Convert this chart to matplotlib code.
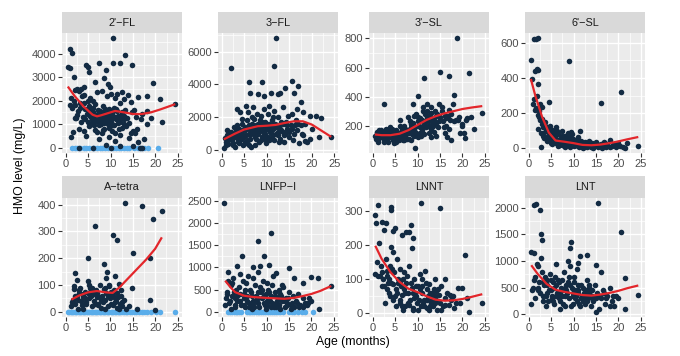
import numpy as np
import matplotlib
matplotlib.use("Agg")
import matplotlib.pyplot as plt
from matplotlib.ticker import MultipleLocator

plt.rcParams['font.family'] = ['Liberation Sans', 'DejaVu Sans']

# ---- data (age in months, HMO level in mg/L) ----
titles = ["2'\u2212FL", "3\u2212FL", "3'\u2212SL", "6'\u2212SL",
          "A\u2212tetra", "LNFP\u2212I", "LNNT", "LNT"]

fl2_age = [0.5, 0.9, 1.0, 1.5, 1.8, 2.5, 3.5, 4.0, 4.5, 5.0,
           5.2, 6.5, 7.5, 8.5, 9.0, 9.5, 9.8, 10.5, 10.6, 12.0,
           13.2, 14.8, 12.5, 16.0, 18.0, 19.5, 21.0, 24.4, 21.5, 19.0,
           17.0, 18.0, 15.0, 15.5, 2.0, 3.0, 4.2, 5.5, 6.0, 7.0,
           8.0, 9.2, 10.2, 11.0, 11.5, 12.2, 13.0, 13.8, 14.5, 15.2,
           1.2, 1.5, 2.2, 2.8, 3.3, 3.8, 4.3, 4.8, 5.3, 5.8,
           6.2, 6.6, 7.0, 7.3, 7.7, 8.1, 8.4, 8.8, 9.1, 9.4,
           9.7, 10.0, 10.3, 10.7, 11.1, 11.4, 11.8, 12.3, 12.7, 13.3,
           6.0, 6.8, 7.5, 8.0, 8.6, 9.0, 9.5, 10.1, 10.8, 11.6,
           5.5, 6.3, 7.2, 7.8, 8.3, 8.9, 9.3, 9.9, 10.4, 11.3,
           1.3, 1.7, 3.0, 4.0, 4.6, 5.2, 6.5, 7.4, 8.2, 9.6,
           10.3, 11.0, 12.0, 12.6, 13.5, 14.0, 14.5, 16.2, 17.5, 12.9,
           2.4, 3.5, 5.8, 7.0, 8.6, 10.5, 11.7, 13.0, 14.2, 15.8,
           3.0, 6.0, 10.0, 15.0, 16.5, 17.0, 9.0, 12.0,
           5.1, 5.6, 6.1, 6.7, 7.1, 7.6, 8.2, 8.7, 9.2, 9.7,
           10.2, 10.6, 11.2, 11.7, 12.1, 12.6, 13.1, 6.4, 7.9, 9.9,
           1.0, 1.9, 2.6, 3.1, 3.6, 4.1, 4.4, 5.0, 4.9, 2.1,
           6.9, 8.4, 9.6, 10.9, 11.9, 13.6, 14.8, 15.6, 16.7, 18.2]
fl2_val = [3450, 3400, 4200, 4050, 3000, 2500, 2500, 2600, 3500, 3450,
           3200, 2800, 3600, 2950, 3300, 2700, 2600, 3600, 4650, 3600,
           3950, 3500, 2350, 2150, 2200, 2750, 2050, 1850, 1100, 1250,
           1450, 1000, 700, 600, 2450, 2400, 2250, 2100, 2000, 2350,
           2400, 2200, 2300, 2100, 2300, 1900, 2050, 2250, 1950, 1600,
           2100, 1700, 1800, 1550, 1900, 1300, 1650, 1450, 1750, 1200,
           1500, 1850, 1300, 1600, 1100, 1450, 1750, 1250, 1550, 1350,
           1650, 1200, 1450, 1700, 1300, 1550, 1150, 1400, 1250, 1600,
           1050, 1250, 950, 1150, 1050, 1200, 1000, 1100, 950, 1050,
           1350, 1150, 1450, 1300, 1500, 1400, 1250, 1500, 1350, 1200,
           450, 650, 800, 700, 500, 900, 750, 350, 600, 450,
           700, 300, 550, 850, 900, 400, 600, 250, 350, 1000,
           1250, 1100, 1000, 1150, 800, 950, 1300, 1200, 1050, 800,
           0, 0, 0, 50, 0, 0, 100, 80,
           1600, 1300, 1700, 1400, 1200, 1550, 1300, 1650, 1150, 1450,
           1250, 1550, 1650, 1350, 1100, 1500, 1350, 950, 1000, 900,
           1800, 2000, 1400, 1700, 2200, 1900, 1200, 1100, 2000, 1250,
           650, 750, 850, 600, 800, 1250, 1500, 1300, 1200, 1550]
fl2_zero = [1.5, 2.0, 2.6, 3.2, 4.0, 4.6, 5.2, 6.0, 6.4, 7.0, 7.6, 8.2, 8.8,
            9.4, 10.0, 10.6, 11.2, 11.8, 12.4, 13.0, 13.6, 14.2, 15.2, 16.0,
            16.8, 17.4, 18.4, 20.6]
fl2_fit_x = [0.5, 2, 4, 6, 7, 8, 10, 11, 13, 15, 17, 19, 21, 24.4]
fl2_fit_y = [2600, 2200, 1750, 1400, 1330, 1380, 1500, 1560, 1500, 1430, 1430,
             1500, 1620, 1850]

fl3_age = [2.0, 6.0, 9.0, 11.7, 12.0, 15.5, 17.0, 16.0, 14.0, 13.0,
           5.5, 6.2, 8.0, 9.5, 10.5, 11.0, 12.5, 3.5, 4.0, 7.0,
           17.5, 18.0, 19.5, 21.0, 22.0, 24.3, 18.5, 20.0, 21.5, 19.0,
           0.5, 0.8, 1.0, 1.3, 1.5, 1.8, 2.1, 2.4, 2.7, 3.0,
           3.3, 3.6, 3.9, 4.2, 4.5, 4.8, 5.1, 5.4, 5.7, 6.0,
           6.3, 6.6, 6.9, 7.2, 7.5, 7.8, 8.1, 8.4, 8.7, 9.0,
           9.3, 9.6, 9.9, 10.2, 10.5, 10.8, 11.1, 11.4, 11.7, 12.0,
           12.3, 12.6, 12.9, 13.2, 13.5, 13.8, 14.1, 14.4, 14.7, 15.0,
           15.3, 15.6, 16.0, 16.4, 16.8, 17.2, 17.6, 18.0, 18.5, 19.5,
           1.2, 2.2, 3.2, 4.4, 5.2, 6.4, 7.4, 8.2, 9.2, 10.0,
           10.6, 11.2, 11.9, 12.8, 13.6, 14.3, 5.8, 7.7, 8.9, 10.9,
           2.5, 3.4, 4.6, 5.9, 6.8, 7.9, 9.4, 10.4, 11.5, 13.1,
           0.9, 1.6, 2.9, 4.1, 5.0, 6.1, 7.0, 8.6, 9.8, 11.3,
           12.4, 13.9, 14.8, 15.8, 16.6, 17.8, 3.8, 6.7, 8.3, 9.6,
           2.0, 3.0, 3.6, 4.3, 4.9, 5.5, 6.0, 6.6, 7.1, 7.6,
           8.0, 8.5, 9.0, 9.5, 10.0, 10.5, 11.0, 11.5, 12.0, 12.5,
           13.0, 13.5, 14.0, 14.5, 15.0, 15.5, 16.2, 17.0, 5.3, 7.3,
           8.8, 10.3, 11.6, 12.7, 3.9, 4.7, 6.5, 9.7, 1.4, 2.6]
fl3_val = [5000, 4150, 4150, 5100, 6800, 4200, 3900, 3500, 3800, 3450,
           2700, 3500, 3400, 3300, 2700, 3450, 3400, 2500, 2300, 2600,
           2900, 2300, 2100, 2050, 1950, 800, 550, 1300, 800, 500,
           150, 750, 500, 1200, 350, 900, 1100, 600, 1400, 800,
           1000, 500, 1300, 700, 1600, 900, 1200, 400, 1800, 1000,
           700, 1500, 1100, 1900, 800, 1300, 1600, 500, 2100, 1200,
           900, 1700, 1400, 2200, 600, 1100, 1800, 1300, 2400, 1000,
           1500, 2000, 700, 1200, 2600, 900, 1600, 1300, 2100, 800,
           1500, 2200, 1000, 1800, 1200, 400, 1500, 900, 1600, 700,
           900, 700, 1200, 1000, 1400, 1200, 1000, 1100, 1500, 1300,
           1400, 1000, 1600, 1400, 1100, 1700, 600, 700, 800, 700,
           400, 1500, 1900, 2300, 2000, 2200, 2500, 1600, 2000, 1700,
           300, 1100, 200, 600, 800, 300, 1300, 1800, 400, 1500,
           900, 500, 1200, 600, 2500, 1000, 900, 1600, 1300, 1000,
           900, 1000, 700, 1100, 1300, 900, 1500, 1000, 1200, 1500,
           1000, 1300, 1700, 1100, 1600, 1200, 1300, 900, 1400, 1100,
           1300, 1600, 1000, 1500, 1100, 1300, 1500, 1600, 500, 300,
           600, 800, 600, 500, 400, 300, 200, 700, 600, 300]
fl3_zero = []
fl3_fit_x = [0.5, 3, 5, 8, 10, 12, 14, 16, 18, 20, 22, 24.3]
fl3_fit_y = [650, 1000, 1250, 1450, 1480, 1530, 1650, 1750, 1750, 1550, 1200, 800]

sl3_age = [18.7, 15.0, 21.5, 17.0, 11.5, 18.2, 10.0, 2.5, 9.0, 24.4,
           21.0, 20.0, 19.5, 20.5, 16.0, 17.0, 9.5, 13.0, 14.0, 22.5,
           0.5, 0.8, 1.0, 1.3, 1.6, 1.9, 2.2, 2.5, 2.8, 3.1,
           3.4, 3.7, 4.0, 4.3, 4.6, 4.9, 5.2, 5.5, 5.8, 6.1,
           6.4, 6.7, 7.0, 7.3, 7.6, 7.9, 8.2, 8.5, 8.8, 9.1,
           9.4, 9.7, 10.0, 10.3, 10.6, 10.9, 11.2, 11.5, 11.8, 12.1,
           12.4, 12.7, 13.0, 13.3, 13.6, 13.9, 14.2, 14.5, 14.8, 15.1,
           15.4, 15.7, 16.0, 16.3, 16.6, 16.9, 17.2, 17.5, 17.8, 18.1,
           1.2, 2.0, 3.0, 3.8, 4.8, 5.6, 6.6, 7.4, 8.4, 9.2,
           10.2, 10.8, 11.5, 12.0, 12.6, 13.4, 14.4, 15.5, 16.4, 17.4,
           1.5, 2.6, 3.5, 4.5, 5.5, 6.5, 7.5, 8.5, 9.5, 10.5,
           11.0, 11.7, 12.3, 12.9, 13.5, 14.1, 18.5, 19.0, 19.8, 20.3,
           0.9, 1.7, 2.4, 3.3, 4.1, 4.7, 5.3, 5.9, 6.3, 6.9,
           7.2, 7.7, 8.0, 8.6, 9.0, 9.6, 10.1, 10.5, 11.0, 11.4,
           11.9, 12.5, 13.1, 2.9, 3.9, 5.1, 6.2, 7.1, 8.3, 9.3,
           10.7, 11.3, 12.2, 13.7, 14.7, 15.8, 16.8, 19.3, 20.8, 22.0]
sl3_val = [800, 570, 565, 545, 525, 410, 405, 350, 350, 290,
           250, 210, 150, 115, 150, 180, 50, 120, 130, 180,
           130, 110, 150, 90, 140, 170, 120, 100, 160, 130,
           90, 150, 120, 180, 100, 140, 170, 110, 130, 240,
           150, 100, 200, 130, 170, 260, 110, 190, 140, 220,
           160, 280, 120, 200, 250, 170, 300, 140, 230, 350,
           270, 200, 330, 250, 160, 300, 220, 190, 350, 260,
           300, 230, 270, 200, 120, 310, 240, 280, 350, 230,
           100, 150, 110, 130, 80, 150, 120, 160, 180, 130,
           230, 190, 210, 260, 150, 220, 280, 330, 250, 100,
           170, 90, 170, 110, 120, 180, 140, 100, 190, 150,
           160, 280, 200, 290, 200, 270, 240, 240, 200, 150,
           160, 120, 140, 100, 160, 110, 140, 100, 160, 130,
           180, 110, 150, 210, 170, 150, 260, 190, 240, 200,
           190, 230, 180, 180, 190, 90, 200, 100, 230, 270,
           130, 330, 300, 240, 230, 190, 270, 260, 240, 260]
sl3_zero = []
sl3_fit_x = [0.5, 2, 4, 6, 8, 10, 12, 14, 16, 18, 20, 22, 24.4]
sl3_fit_y = [140, 135, 135, 145, 170, 205, 240, 265, 285, 300, 315, 325, 335]

sl6_age = [1.3, 1.6, 2.0, 0.5, 1.5, 1.8, 2.2, 0.8, 2.0, 4.5,
           9.0, 16.0, 20.5, 3.0, 1.5, 2.0, 2.8, 11.5, 1.2, 2.5,
           1.0, 1.7, 2.3, 2.6, 3.0, 3.3, 3.6, 3.9, 4.2, 4.5,
           4.8, 5.1, 5.4, 5.7, 6.0, 6.3, 6.6, 6.9, 7.2, 7.5,
           7.8, 8.1, 8.4, 8.7, 9.0, 9.3, 9.6, 9.9, 10.2, 10.5,
           10.8, 11.1, 11.4, 11.7, 12.0, 12.3, 12.6, 12.9, 13.2, 13.5,
           13.8, 14.1, 14.5, 15.0, 15.5, 16.0, 16.5, 17.0, 17.5, 18.0,
           18.5, 19.0, 19.5, 20.0, 21.0, 21.5, 24.4, 3.5, 4.0, 5.0,
           5.5, 6.2, 6.8, 7.3, 7.9, 8.5, 9.2, 9.8, 10.6, 11.3,
           2.2, 2.7, 3.1, 3.7, 4.3, 4.7, 5.3, 5.9, 6.5, 7.0,
           12.1, 12.8, 13.4, 14.3, 15.2, 16.3, 17.2, 19.3, 20.3, 22.0,
           8.8, 9.4, 10.0, 10.9, 8.2, 7.6, 6.0, 5.2, 1.9, 2.4,
           3.2, 3.8, 4.4, 4.9, 5.5, 6.1, 6.7, 7.4, 8.0, 8.6,
           9.1, 9.7, 10.4, 11.0, 11.6, 12.5, 13.0, 14.0, 14.8, 15.8,
           2.9, 4.1, 5.8, 6.4, 7.7, 8.3, 10.1, 11.8, 16.8, 18.2]
sl6_val = [620, 620, 625, 505, 440, 450, 445, 395, 365, 265,
           495, 260, 320, 235, 220, 190, 10, 100, 280, 250,
           250, 230, 180, 160, 140, 120, 150, 100, 110, 80,
           130, 60, 90, 70, 120, 50, 80, 40, 60, 100,
           30, 70, 45, 85, 25, 60, 80, 35, 40, 20,
           50, 15, 30, 45, 20, 10, 35, 25, 15, 40,
           10, 30, 20, 35, 10, 25, 15, 30, 20, 50,
           15, 25, 10, 30, 10, 5, 15, 60, 40, 30,
           50, 30, 20, 40, 15, 50, 10, 55, 25, 10,
           110, 90, 70, 130, 60, 90, 25, 100, 15, 20,
           5, 15, 20, 5, 25, 5, 10, 20, 15, 30,
           70, 95, 15, 65, 10, 55, 75, 105, 300, 210,
           90, 110, 70, 60, 40, 90, 45, 70, 50, 40,
           30, 45, 30, 20, 35, 30, 10, 20, 15, 20,
           170, 120, 60, 100, 30, 20, 50, 10, 35, 10]
sl6_zero = []
sl6_fit_x = [0.5, 1.5, 3, 4.5, 6, 8, 10, 12, 14, 16, 18, 20, 22, 24.4]
sl6_fit_y = [395, 300, 180, 90, 45, 38, 30, 20, 18, 22, 30, 40, 52, 65]

atet_age = [13.2, 17.0, 21.5, 19.5, 6.5, 10.7, 11.5, 15.0, 18.8, 5.0,
            2.0, 8.5, 9.2, 11.0, 14.8, 18.8, 20.0, 16.0, 12.0, 9.7,
            1.3, 1.6, 1.9, 2.2, 2.5, 2.8, 3.1, 3.4, 3.7, 4.0,
            4.3, 4.6, 4.9, 5.2, 5.5, 5.8, 6.1, 6.4, 6.7, 7.0,
            7.3, 7.6, 7.9, 8.2, 8.5, 8.8, 9.1, 9.4, 9.7, 10.0,
            10.3, 10.6, 10.9, 11.2, 11.5, 11.8, 12.1, 12.4, 12.7, 13.0,
            1.8, 3.0, 4.5, 5.3, 6.2, 7.2, 8.0, 9.0, 10.1, 11.0,
            13.5, 14.2, 12.3, 8.7, 6.8, 2.5, 3.8,
            1.5, 2.0, 2.7, 3.3, 3.9, 4.4, 5.0, 5.6, 6.0, 6.6,
            7.1, 7.7, 8.3, 8.9, 9.5, 10.2, 10.8, 11.4, 12.0, 12.6]
atet_val = [405, 395, 378, 345, 322, 285, 268, 218, 200, 202,
            143, 180, 150, 135, 88, 42, 5, 10, 105, 100,
            20, 45, 85, 30, 60, 10, 70, 40, 25, 55,
            75, 30, 115, 50, 90, 20, 65, 40, 80, 55,
            30, 100, 15, 60, 85, 45, 70, 20, 95, 50,
            65, 25, 80, 40, 15, 55, 30, 60, 20, 45,
            95, 80, 35, 100, 75, 25, 45, 125, 75, 35,
            10, 20, 80, 10, 70, 120, 10,
            35, 60, 45, 90, 65, 50, 70, 60, 90, 30,
            70, 55, 35, 90, 60, 30, 55, 70, 10, 35]
atet_zero = [0.5, 0.8, 1.1, 1.4, 1.7, 2.0, 2.3, 2.6, 2.9, 3.2, 3.5, 3.8,
             4.1, 4.4, 4.7, 5.0, 5.3, 5.6, 5.9, 6.2, 6.5, 6.8, 7.1, 7.4,
             7.7, 8.0, 8.3, 8.6, 8.9, 9.2, 9.5, 9.8, 10.1, 10.4, 10.7,
             11.0, 11.3, 11.6, 11.9, 12.2, 12.6, 13.0, 13.4, 13.8, 14.3,
             14.8, 15.3, 15.8, 16.3, 17.0, 17.6, 18.2, 19.0, 20.2, 21.0,
             24.5]
atet_fit_x = [1.3, 3, 5, 7, 9, 10.5, 12, 14, 16, 18, 20, 21.5]
atet_fit_y = [45, 60, 72, 77, 72, 70, 90, 125, 160, 195, 235, 278]

lnfp_age = [0.5, 11.0, 8.0, 9.5, 4.5, 10.5, 8.5, 3.5, 7.0, 15.0,
            1.5, 12.0, 20.0, 21.5, 24.4, 18.0, 19.5, 21.7, 16.0, 13.5,
            0.8, 1.1, 1.4, 1.7, 2.0, 2.3, 2.6, 2.9, 3.2, 3.5,
            3.8, 4.1, 4.4, 4.7, 5.0, 5.3, 5.6, 5.9, 6.2, 6.5,
            6.8, 7.1, 7.4, 7.7, 8.0, 8.3, 8.6, 8.9, 9.2, 9.5,
            9.8, 10.1, 10.4, 10.7, 11.0, 11.3, 11.6, 11.9, 12.2, 12.5,
            12.8, 13.1, 13.4, 13.7, 14.0, 14.3, 14.6, 15.0, 15.4, 15.8,
            16.2, 16.6, 17.0, 17.5, 18.0, 18.5, 19.0, 20.0, 1.2, 2.4,
            4.0, 5.5, 7.0, 8.2, 9.0, 10.0, 11.5, 12.8, 3.0, 6.0,
            2.0, 5.0, 6.8, 8.0, 9.8, 11.0, 13.0, 14.5, 15.5, 17.2,
            1.0, 1.9, 2.7, 3.4, 4.2, 4.9, 5.7, 6.3, 7.0, 7.6,
            8.2, 8.8, 9.4, 10.0, 10.6, 11.2, 11.8, 12.4, 13.2, 14.0,
            14.8, 15.7, 16.8, 18.2, 19.2, 3.0, 5.2, 7.3, 9.6, 12.0]
lnfp_val = [2450, 1780, 1600, 1270, 1250, 1060, 1030, 1030, 1000, 990,
            900, 880, 780, 770, 580, 650, 300, 50, 750, 600,
            150, 450, 700, 200, 600, 350, 750, 100, 500, 250,
            550, 400, 150, 700, 300, 500, 250, 800, 200, 450,
            350, 150, 600, 250, 450, 100, 550, 300, 700, 200,
            400, 150, 500, 250, 350, 600, 100, 450, 200, 300,
            150, 400, 250, 550, 100, 300, 200, 450, 150, 350,
            100, 250, 400, 150, 300, 200, 150, 250, 400, 650,
            850, 650, 750, 900, 500, 650, 800, 500, 300, 100,
            50, 150, 50, 200, 50, 100, 50, 150, 50, 100,
            300, 250, 450, 350, 250, 400, 350, 500, 250, 350,
            300, 450, 350, 250, 450, 200, 350, 250, 350, 250,
            300, 200, 200, 100, 200, 150, 100, 100, 150, 100]
lnfp_zero = [1.5, 1.9, 2.3, 2.7, 3.1, 3.5, 3.9, 4.3, 5.6, 6.0, 6.4, 6.8,
             7.2, 7.6, 8.0, 8.4, 8.8, 9.2, 9.6, 10.0, 10.4, 10.8, 11.2,
             11.6, 12.0, 12.5, 13.0, 13.6, 15.0, 15.6, 16.2, 17.0, 17.8,
             18.6, 20.3]
lnfp_fit_x = [0.8, 2, 3, 5, 7, 10, 12, 14, 16, 18, 20, 22, 24.4]
lnfp_fit_y = [700, 550, 440, 360, 330, 310, 300, 290, 310, 350, 400, 470, 580]

lnnt_age = [1.2, 4.0, 4.2, 10.7, 15.0, 0.5, 0.8, 2.0, 3.0, 2.5,
            4.5, 5.0, 6.5, 7.5, 8.0, 8.5, 9.0, 8.7, 4.0, 4.5,
            20.5, 21.5, 24.4, 21.0, 19.0, 20.0, 1.5, 1.0, 1.8, 2.2,
            2.6, 3.0, 3.3, 3.6, 3.9, 4.2, 4.5, 4.8, 5.1, 5.4,
            5.7, 6.0, 6.3, 6.6, 6.9, 7.2, 7.5, 7.8, 8.1, 8.4,
            8.7, 9.0, 9.3, 9.6, 9.9, 10.2, 10.5, 10.8, 11.1, 11.4,
            11.7, 12.0, 12.3, 12.6, 12.9, 13.2, 13.5, 13.8, 14.1, 14.4,
            14.7, 15.0, 15.3, 15.6, 16.0, 16.5, 17.0, 17.5, 18.0, 18.5,
            0.6, 1.3, 2.8, 3.5, 5.5, 6.2, 7.0, 7.7, 9.5, 10.5,
            11.8, 12.8, 13.8, 16.2, 17.8, 19.5, 3.8, 5.2, 6.8, 8.2,
            9.2, 10.0, 11.0, 12.2, 13.0, 14.0, 2.0, 3.2, 4.6, 6.0,
            5.0, 5.6, 6.1, 6.7, 7.3, 7.9, 8.5, 9.1, 9.7, 10.3,
            10.9, 11.5, 12.1, 12.7, 13.3, 13.9, 14.5, 15.2, 16.0, 17.2,
            2.4, 3.1, 3.7, 4.3, 1.7, 6.5, 8.9, 11.3, 12.5, 13.6]
lnnt_val = [318, 312, 302, 322, 310, 288, 265, 268, 265, 245,
            240, 250, 230, 237, 238, 260, 220, 190, 195, 180,
            170, 5, 30, 45, 75, 75, 205, 150, 140, 120,
            80, 160, 110, 60, 140, 90, 40, 120, 70, 160,
            100, 30, 80, 55, 120, 20, 90, 60, 140, 40,
            75, 10, 100, 50, 30, 80, 115, 20, 60, 40,
            125, 15, 50, 85, 30, 60, 20, 100, 40, 10,
            55, 30, 80, 20, 45, 60, 25, 40, 15, 30,
            115, 110, 30, 90, 60, 130, 70, 110, 60, 70,
            90, 20, 50, 100, 50, 30, 50, 20, 10, 25,
            45, 10, 100, 70, 35, 65, 80, 125, 85, 95,
            50, 90, 40, 100, 60, 30, 90, 60, 80, 40,
            80, 20, 40, 60, 50, 30, 70, 10, 25, 55,
            100, 70, 100, 130, 110, 20, 15, 30, 10, 70]
lnnt_zero = []
lnnt_fit_x = [0.6, 2, 4, 6, 8, 10, 12, 14, 16, 18, 20, 22, 24.4]
lnnt_fit_y = [198, 160, 120, 92, 72, 62, 50, 40, 37, 38, 42, 48, 56]

lnt_age = [1.3, 1.7, 2.5, 15.5, 20.5, 2.7, 2.9, 9.5, 9.2, 13.0,
           11.5, 0.6, 1.1, 11.0, 15.0, 16.0, 21.5, 24.4, 21.5, 18.0,
           15.0, 7.0, 0.5, 1.0, 1.5, 2.0, 2.3, 2.6, 3.0, 3.3,
           3.6, 3.9, 4.2, 4.5, 4.8, 5.1, 5.4, 5.7, 6.0, 6.3,
           6.6, 6.9, 7.2, 7.5, 7.8, 8.1, 8.4, 8.7, 9.0, 9.3,
           9.6, 9.9, 10.2, 10.5, 10.8, 11.1, 11.4, 11.7, 12.0, 12.3,
           12.6, 12.9, 13.2, 13.5, 13.8, 14.1, 14.4, 14.7, 15.2, 15.6,
           16.0, 16.5, 17.0, 17.5, 18.0, 18.5, 19.0, 19.5, 20.0, 1.8,
           2.8, 4.0, 5.0, 6.0, 7.0, 8.0, 9.0, 10.0, 11.0, 12.0,
           3.2, 4.4, 5.8, 6.8, 8.3, 9.8, 10.7, 11.8, 12.8, 14.0,
           0.8, 1.4, 2.1, 3.5, 5.3, 7.4, 8.8, 10.3, 13.5, 16.8,
           1.2, 2.2, 3.1, 4.1, 4.9, 5.6, 6.2, 6.8, 7.4, 8.0,
           8.6, 9.2, 9.8, 10.4, 11.0, 11.6, 12.2, 12.8, 13.4, 14.2,
           14.9, 15.8, 17.2, 18.8, 3.8, 5.5, 7.6, 9.4, 11.3, 13.0]
lnt_val = [2050, 2070, 1950, 2080, 1550, 1510, 1390, 1350, 1240, 1120,
           1090, 1160, 1150, 960, 930, 800, 680, 360, 100, 150,
           50, 100, 200, 500, 300, 900, 600, 400, 800, 250,
           700, 350, 550, 450, 750, 300, 600, 200, 950, 400,
           650, 250, 500, 350, 800, 150, 450, 600, 300, 900,
           500, 200, 700, 350, 250, 450, 150, 550, 300, 400,
           200, 650, 300, 500, 150, 350, 250, 550, 400, 100,
           300, 450, 200, 350, 500, 250, 150, 350, 300, 950,
           1050, 650, 450, 550, 400, 350, 700, 600, 400, 250,
           350, 250, 700, 300, 550, 400, 850, 350, 450, 300,
           450, 700, 500, 550, 350, 650, 1000, 300, 550, 400,
           650, 450, 600, 400, 650, 500, 350, 600, 450, 500,
           400, 550, 350, 450, 550, 300, 500, 350, 400, 450,
           300, 350, 300, 350, 150, 250, 200, 150, 200, 250]
lnt_zero = []
lnt_fit_x = [0.6, 2, 4, 6, 8, 10, 12, 14, 16, 18, 20, 22, 24.4]
lnt_fit_y = [920, 760, 570, 460, 420, 390, 360, 350, 370, 400, 440, 490, 540]

panels = [
    (fl2_age, fl2_val, fl2_zero, fl2_fit_x, fl2_fit_y, 1000),
    (fl3_age, fl3_val, fl3_zero, fl3_fit_x, fl3_fit_y, 2000),
    (sl3_age, sl3_val, sl3_zero, sl3_fit_x, sl3_fit_y, 200),
    (sl6_age, sl6_val, sl6_zero, sl6_fit_x, sl6_fit_y, 200),
    (atet_age, atet_val, atet_zero, atet_fit_x, atet_fit_y, 100),
    (lnfp_age, lnfp_val, lnfp_zero, lnfp_fit_x, lnfp_fit_y, 500),
    (lnnt_age, lnnt_val, lnnt_zero, lnnt_fit_x, lnnt_fit_y, 100),
    (lnt_age, lnt_val, lnt_zero, lnt_fit_x, lnt_fit_y, 500),
]

# ---- layout (pixels of a 680x356 canvas) ----
W, H = 680, 356
col_left = [62, 218, 369, 525]
pw = 120
row_geom = [(12, 33, 153), (176, 198, 317)]  # strip top, panel top, panel bottom

fig = plt.figure(figsize=(W / 100, H / 100), dpi=100)

for i, (age, val, zero, fx, fy, step) in enumerate(panels):
    r, c = divmod(i, 4)
    st, pt, pb = row_geom[r]
    x0 = col_left[c]
    ax = fig.add_axes([x0 / W, 1 - pb / H, pw / W, (pb - pt) / H])
    sax = fig.add_axes([x0 / W, 1 - pt / H, pw / W, (pt - st) / H])
    sax.set_facecolor('#D9D9D9')
    sax.set_xticks([])
    sax.set_yticks([])
    for s in sax.spines.values():
        s.set_visible(False)
    sax.text(0.5, 0.48, titles[i], ha='center', va='center', fontsize=7.8,
             color='#1A1A1A', transform=sax.transAxes)

    ax.set_facecolor('#EBEBEB')
    for s in ax.spines.values():
        s.set_visible(False)
    ax.set_axisbelow(True)
    ax.xaxis.set_major_locator(MultipleLocator(5))
    ax.xaxis.set_minor_locator(MultipleLocator(2.5))
    ax.yaxis.set_major_locator(MultipleLocator(step))
    ax.yaxis.set_minor_locator(MultipleLocator(step / 2))
    ax.grid(which='major', color='white', lw=1.0)
    ax.grid(which='minor', color='white', lw=0.5)
    ax.tick_params(which='major', length=2.8, width=0.8, color='#333333',
                   labelsize=8, labelcolor='#4D4D4D', pad=1.5)
    ax.tick_params(which='minor', length=0)

    if zero:
        ax.scatter(zero, np.zeros(len(zero)), s=16, color='#5AADEA',
                   linewidths=0, zorder=2)
    ax.scatter(age, val, s=16, color='#132B43', linewidths=0, zorder=3)
    ax.plot(fx, fy, color='#E3262B', lw=1.6, zorder=4, solid_capstyle='butt')

    all_x = list(age) + list(zero)
    all_y = list(val) + [0] * len(zero)
    xr = max(all_x) - min(all_x)
    yr = max(all_y) - min(all_y)
    ax.set_xlim(min(all_x) - 0.05 * xr - 0.1, max(all_x) + 0.05 * xr + 0.3)
    ax.set_ylim(min(all_y) - 0.05 * yr, max(all_y) + 0.05 * yr)

fig.text(20 / W, 1 - 166 / H, 'HMO level (mg/L)', rotation=90, ha='center',
         va='center', fontsize=8.8, color='black')
fig.text(353 / W, 1 - 342 / H, 'Age (months)', ha='center', va='center',
         fontsize=8.8, color='black')

fig.savefig('out.png', dpi=100, facecolor='white')
